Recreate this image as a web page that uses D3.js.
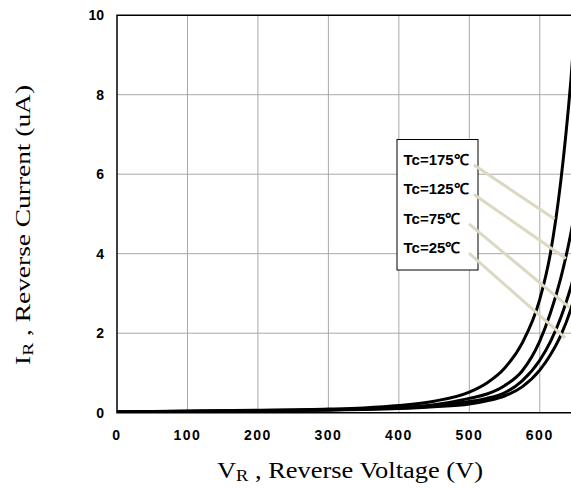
<!DOCTYPE html>
<html>
<head>
<meta charset="utf-8">
<script src="https://cdn.jsdelivr.net/npm/d3@7"></script>
<style>
  body { margin: 0; background: #fff; }
  svg { display: block; }
</style>
</head>
<body>
<div id="chart"></div>
<script>
// Reverse voltage samples (V)
const voltages = [0, 100, 200, 300, 350, 400, 450, 500, 525, 550, 575, 600, 615, 630, 644, 655];

// Reverse current (uA) per case temperature
const temps = ["175", "125", "75", "25"];
const i175 = [0.02, 0.04, 0.06, 0.09, 0.12, 0.18, 0.29, 0.52, 0.75, 1.12, 1.75, 2.85, 4.0, 5.85, 8.33, 10.9];
const i125 = [0.02, 0.035, 0.05, 0.075, 0.095, 0.13, 0.2, 0.36, 0.47, 0.68, 1.05, 1.8, 2.5, 3.4, 4.5, 5.6];
const i75 = [0.02, 0.03, 0.045, 0.07, 0.09, 0.12, 0.17, 0.28, 0.36, 0.5, 0.8, 1.32, 1.78, 2.4, 3.15, 3.9];
const i25 = [0.02, 0.03, 0.04, 0.065, 0.08, 0.105, 0.15, 0.22, 0.3, 0.42, 0.65, 1.07, 1.45, 1.95, 2.6, 3.3];

// Axis ticks
const xTicks = [0, 100, 200, 300, 400, 500, 600];
const yTicks = [0, 2, 4, 6, 8, 10];

// Where each leader line touches its curve (V, uA)
const leaderV = [621, 637, 642, 636];
const leaderI = [4.87, 3.88, 2.65, 1.88];

const width = 571;
const height = 491;

const svg = d3
  .select("#chart")
  .append("svg")
  .attr("width", width)
  .attr("height", height);

const x = d3.scaleLinear().domain([0, 650]).range([117, 575]);
const y = d3.scaleLinear().domain([0, 10]).range([412.7, 15.2]);

// Grid
svg
  .append("g")
  .selectAll("line")
  .data(xTicks.slice(1))
  .enter()
  .append("line")
  .attr("x1", (d) => x(d))
  .attr("x2", (d) => x(d))
  .attr("y1", y(10))
  .attr("y2", y(0))
  .attr("stroke", "#a8a8a8")
  .attr("stroke-width", 1);

svg
  .append("g")
  .selectAll("line")
  .data(yTicks.slice(1, -1))
  .enter()
  .append("line")
  .attr("x1", x(0))
  .attr("x2", width)
  .attr("y1", (d) => y(d))
  .attr("y2", (d) => y(d))
  .attr("stroke", "#a8a8a8")
  .attr("stroke-width", 1);

// Frame
svg
  .append("path")
  .attr("d", `M${width},${y(10)}H${x(0)}V${y(0)}H${width}`)
  .attr("fill", "none")
  .attr("stroke", "#000")
  .attr("stroke-width", 1.5);

// Tick labels
const tickFont = "Liberation Sans, Arial, sans-serif";
svg
  .append("g")
  .selectAll("text")
  .data(xTicks)
  .enter()
  .append("text")
  .attr("x", (d) => x(d))
  .attr("y", 440)
  .attr("text-anchor", "middle")
  .style("font-family", tickFont)
  .style("font-weight", "bold")
  .style("font-size", "14px")
  .style("letter-spacing", "1.5px")
  .text((d) => d);

svg
  .append("g")
  .selectAll("text")
  .data(yTicks)
  .enter()
  .append("text")
  .attr("x", 104)
  .attr("y", (d) => y(d) + 5)
  .attr("text-anchor", "end")
  .style("font-family", tickFont)
  .style("font-weight", "bold")
  .style("font-size", "14px")
  .text((d) => d);

// Axis titles
const serif = "Liberation Serif, Times New Roman, serif";
const xTitle = svg
  .append("text")
  .attr("x", 350)
  .attr("y", 478)
  .attr("text-anchor", "middle")
  .attr("textLength", 266)
  .attr("lengthAdjust", "spacingAndGlyphs")
  .style("font-family", serif)
  .style("font-size", "23px");
xTitle.append("tspan").text("V");
xTitle.append("tspan").attr("dy", 3).style("font-size", "16px").text("R");
xTitle.append("tspan").attr("dy", -3).text(" , Reverse Voltage (V)");

const yTitle = svg
  .append("text")
  .attr("transform", "translate(30,225) rotate(-90)")
  .attr("text-anchor", "middle")
  .attr("textLength", 280)
  .attr("lengthAdjust", "spacingAndGlyphs")
  .style("font-family", serif)
  .style("font-size", "21px");
yTitle.append("tspan").text("I");
yTitle.append("tspan").attr("dy", 3).style("font-size", "15px").text("R");
yTitle.append("tspan").attr("dy", -3).text(" , Reverse Current (uA)");

// Curves
const series = [i175, i125, i75, i25];
const line = d3
  .line()
  .x((d, i) => x(voltages[i]))
  .y((d) => y(d))
  .curve(d3.curveMonotoneX);

svg
  .append("defs")
  .append("clipPath")
  .attr("id", "plotClip")
  .append("rect")
  .attr("x", x(0))
  .attr("y", y(10))
  .attr("width", width - x(0))
  .attr("height", y(0) - y(10));

svg
  .append("g")
  .attr("clip-path", "url(#plotClip)")
  .selectAll("path")
  .data(series)
  .enter()
  .append("path")
  .attr("d", line)
  .attr("fill", "none")
  .attr("stroke", "#000")
  .attr("stroke-width", 3);

// Legend box with leader lines
const boxX = 397;
const boxY = 139.5;
const rowH = 29.4;

svg
  .append("rect")
  .attr("x", boxX)
  .attr("y", boxY)
  .attr("width", 81)
  .attr("height", 130.5)
  .attr("fill", "#fff")
  .attr("stroke", "#000")
  .attr("stroke-width", 1);

const labels = svg
  .append("g")
  .selectAll("g")
  .data(temps)
  .enter()
  .append("g");

labels
  .append("line")
  .attr("x1", (d, i) => (i < 2 ? 474 : 469))
  .attr("y1", (d, i) => boxY + 25.5 + i * rowH)
  .attr("x2", (d, i) => x(leaderV[i]))
  .attr("y2", (d, i) => y(leaderI[i]))
  .attr("stroke", "#dcd8c2")
  .attr("stroke-width", 3);

labels
  .append("text")
  .attr("x", boxX + 6.5)
  .attr("y", (d, i) => boxY + 25.5 + i * rowH)
  .style("font-family", tickFont)
  .style("font-weight", "bold")
  .style("font-size", "15px")
  .text((d) => `Tc=${d}℃`);
</script>
</body>
</html>
